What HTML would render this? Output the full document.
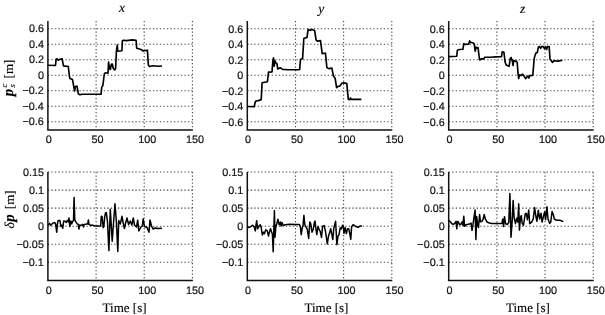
<!DOCTYPE html><html><head><meta charset="utf-8"><title>plots</title><style>html,body{margin:0;padding:0;background:#fff}svg{display:block}text{text-rendering:geometricPrecision;font-family:"Liberation Sans",sans-serif;font-size:10.8px;fill:#111;stroke:#111;stroke-width:0.2px}.s{font-family:"Liberation Serif",serif;stroke:#000;stroke-width:0.12px;fill:#000}</style></head><body>
<svg width="605" height="315" viewBox="0 0 605 315">
<rect width="605" height="315" fill="#fff"/>
<g stroke="#444" stroke-width="1.1" stroke-dasharray="1.3 2.2" fill="none"><line x1="47.9" y1="28.8" x2="192.4" y2="28.8"/><line x1="47.9" y1="44.3" x2="192.4" y2="44.3"/><line x1="47.9" y1="59.8" x2="192.4" y2="59.8"/><line x1="47.9" y1="75.3" x2="192.4" y2="75.3"/><line x1="47.9" y1="90.8" x2="192.4" y2="90.8"/><line x1="47.9" y1="106.3" x2="192.4" y2="106.3"/><line x1="47.9" y1="121.8" x2="192.4" y2="121.8"/><line x1="96.1" y1="21.0" x2="96.1" y2="129.6"/><line x1="144.2" y1="21.0" x2="144.2" y2="129.6"/><line x1="192.4" y1="21.0" x2="192.4" y2="129.6"/></g>
<path d="M47.9 21.0V129.9H192.9" stroke="#111" stroke-width="1.5" fill="none"/>
<text x="43.9" y="32.4" text-anchor="end">0.6</text>
<text x="43.9" y="47.9" text-anchor="end">0.4</text>
<text x="43.9" y="63.4" text-anchor="end">0.2</text>
<text x="43.9" y="78.9" text-anchor="end">0</text>
<text x="43.9" y="94.4" text-anchor="end">−0.2</text>
<text x="43.9" y="109.9" text-anchor="end">−0.4</text>
<text x="43.9" y="125.4" text-anchor="end">−0.6</text>
<text x="48.7" y="143.4" text-anchor="middle">0</text>
<text x="97.5" y="143.4" text-anchor="middle">50</text>
<text x="147.2" y="143.4" text-anchor="middle">100</text>
<text x="195.0" y="143.4" text-anchor="middle">150</text>
<path d="M47.8 65.3 L55.5 65.5 L56.1 59.3 L57.2 58.9 L58.3 60.2 L60.0 59.3 L62.1 58.9 L63.5 65.9 L68.3 66.5 L69.5 77.0 L70.0 78.4 L72.5 79.6 L74.6 91.0 L75.3 86.8 L77.0 86.1 L78.4 93.8 L79.5 94.6 L83.0 94.2 L101.1 94.2 L101.7 87.3 L102.9 85.3 L104.3 74.0 L105.3 72.8 L108.0 73.2 L108.6 62.0 L109.5 68.7 L110.4 69.3 L111.3 64.3 L112.3 64.0 L113.1 68.0 L114.7 70.0 L115.6 68.5 L116.2 56.0 L116.4 51.2 L117.3 45.0 L117.7 51.2 L121.9 50.7 L122.4 40.8 L123.4 40.3 L126.4 40.6 L132.5 39.9 L136.1 40.2 L136.7 48.2 L138.6 48.7 L141.7 49.7 L142.7 51.0 L144.2 50.7 L147.4 50.2 L148.4 65.4 L149.8 66.5 L152.8 65.7 L157.9 66.2 L162.0 66.0" stroke="#000" stroke-width="1.65" fill="none" stroke-linejoin="round"/>
<g stroke="#444" stroke-width="1.1" stroke-dasharray="1.3 2.2" fill="none"><line x1="247.3" y1="28.8" x2="391.8" y2="28.8"/><line x1="247.3" y1="44.3" x2="391.8" y2="44.3"/><line x1="247.3" y1="59.8" x2="391.8" y2="59.8"/><line x1="247.3" y1="75.3" x2="391.8" y2="75.3"/><line x1="247.3" y1="90.8" x2="391.8" y2="90.8"/><line x1="247.3" y1="106.3" x2="391.8" y2="106.3"/><line x1="247.3" y1="121.8" x2="391.8" y2="121.8"/><line x1="295.5" y1="21.0" x2="295.5" y2="129.6"/><line x1="343.6" y1="21.0" x2="343.6" y2="129.6"/><line x1="391.8" y1="21.0" x2="391.8" y2="129.6"/></g>
<path d="M247.3 21.0V129.9H392.3" stroke="#111" stroke-width="1.5" fill="none"/>
<text x="243.3" y="32.8" text-anchor="end">0.6</text>
<text x="243.3" y="48.3" text-anchor="end">0.4</text>
<text x="243.3" y="63.8" text-anchor="end">0.2</text>
<text x="243.3" y="79.3" text-anchor="end">0</text>
<text x="243.3" y="94.8" text-anchor="end">−0.2</text>
<text x="243.3" y="110.3" text-anchor="end">−0.4</text>
<text x="243.3" y="125.8" text-anchor="end">−0.6</text>
<text x="248.1" y="143.4" text-anchor="middle">0</text>
<text x="296.9" y="143.4" text-anchor="middle">50</text>
<text x="346.6" y="143.4" text-anchor="middle">100</text>
<text x="394.4" y="143.4" text-anchor="middle">150</text>
<path d="M247.5 106.5 L254.1 106.8 L255.5 101.2 L259.0 100.4 L261.2 99.6 L262.1 82.7 L267.4 81.8 L268.5 72.1 L272.0 71.9 L272.8 62.0 L273.5 57.9 L274.2 66.1 L274.9 60.7 L275.7 62.8 L276.9 63.6 L277.8 69.0 L280.2 67.8 L282.7 69.4 L288.1 69.8 L299.6 69.7 L300.5 59.6 L302.6 58.6 L303.8 38.5 L307.0 37.4 L308.1 29.4 L310.5 30.4 L312.0 29.4 L314.6 30.4 L316.1 40.0 L317.3 41.1 L320.5 40.6 L322.2 53.7 L325.4 53.0 L326.9 67.6 L328.7 68.6 L331.9 68.1 L333.4 76.1 L335.1 78.2 L336.6 87.6 L338.1 86.3 L339.8 86.1 L341.7 83.4 L343.9 82.7 L346.8 83.6 L348.3 99.4 L349.7 99.7 L350.5 97.9 L351.2 99.4 L361.4 99.4" stroke="#000" stroke-width="1.65" fill="none" stroke-linejoin="round"/>
<g stroke="#444" stroke-width="1.1" stroke-dasharray="1.3 2.2" fill="none"><line x1="448.7" y1="28.8" x2="593.2" y2="28.8"/><line x1="448.7" y1="44.3" x2="593.2" y2="44.3"/><line x1="448.7" y1="59.8" x2="593.2" y2="59.8"/><line x1="448.7" y1="75.3" x2="593.2" y2="75.3"/><line x1="448.7" y1="90.8" x2="593.2" y2="90.8"/><line x1="448.7" y1="106.3" x2="593.2" y2="106.3"/><line x1="448.7" y1="121.8" x2="593.2" y2="121.8"/><line x1="496.9" y1="21.0" x2="496.9" y2="129.6"/><line x1="545.0" y1="21.0" x2="545.0" y2="129.6"/><line x1="593.2" y1="21.0" x2="593.2" y2="129.6"/></g>
<path d="M448.7 21.0V129.9H593.7" stroke="#111" stroke-width="1.5" fill="none"/>
<text x="444.7" y="32.8" text-anchor="end">0.6</text>
<text x="444.7" y="48.3" text-anchor="end">0.4</text>
<text x="444.7" y="63.8" text-anchor="end">0.2</text>
<text x="444.7" y="79.3" text-anchor="end">0</text>
<text x="444.7" y="94.8" text-anchor="end">−0.2</text>
<text x="444.7" y="110.3" text-anchor="end">−0.4</text>
<text x="444.7" y="125.8" text-anchor="end">−0.6</text>
<text x="449.5" y="143.4" text-anchor="middle">0</text>
<text x="498.3" y="143.4" text-anchor="middle">50</text>
<text x="548.0" y="143.4" text-anchor="middle">100</text>
<text x="595.8" y="143.4" text-anchor="middle">150</text>
<path d="M448.6 56.6 L456.7 56.3 L457.4 50.2 L459.3 49.5 L462.9 49.3 L463.8 43.6 L464.7 44.4 L468.7 44.2 L469.6 40.9 L470.7 42.4 L472.7 42.7 L474.3 44.2 L475.2 51.1 L476.0 47.1 L476.9 48.0 L478.0 47.6 L479.6 60.0 L481.6 58.7 L483.8 58.9 L484.7 57.3 L490.4 57.2 L495.8 56.9 L501.5 56.7 L502.2 51.8 L503.9 52.2 L505.1 62.1 L506.1 65.1 L509.1 66.3 L510.3 58.5 L511.1 57.5 L512.3 60.9 L513.1 65.5 L513.5 60.3 L515.1 61.5 L516.3 60.9 L517.2 62.7 L518.1 74.2 L518.7 78.4 L519.6 74.8 L521.1 75.6 L522.7 74.2 L524.2 76.3 L525.6 78.7 L526.8 77.2 L527.8 76.0 L529.0 78.0 L529.6 75.6 L532.8 75.4 L533.6 65.7 L534.2 58.5 L535.2 54.9 L535.9 53.1 L537.3 52.5 L538.4 46.9 L539.4 46.4 L540.6 48.3 L541.8 46.3 L543.5 46.9 L544.6 48.7 L545.7 46.8 L546.7 49.5 L547.5 46.6 L549.2 46.6 L550.0 59.2 L551.1 60.6 L552.5 62.5 L553.8 60.8 L558.1 61.1 L562.4 60.3" stroke="#000" stroke-width="1.65" fill="none" stroke-linejoin="round"/>
<g stroke="#444" stroke-width="1.1" stroke-dasharray="1.3 2.2" fill="none"><line x1="47.9" y1="172.0" x2="192.4" y2="172.0"/><line x1="47.9" y1="190.1" x2="192.4" y2="190.1"/><line x1="47.9" y1="208.1" x2="192.4" y2="208.1"/><line x1="47.9" y1="226.2" x2="192.4" y2="226.2"/><line x1="47.9" y1="244.3" x2="192.4" y2="244.3"/><line x1="47.9" y1="262.3" x2="192.4" y2="262.3"/><line x1="96.1" y1="172.0" x2="96.1" y2="280.4"/><line x1="144.2" y1="172.0" x2="144.2" y2="280.4"/><line x1="192.4" y1="172.0" x2="192.4" y2="280.4"/></g>
<path d="M47.9 172.0V280.5H192.9" stroke="#111" stroke-width="1.5" fill="none"/>
<text x="43.9" y="175.6" text-anchor="end">0.15</text>
<text x="43.9" y="193.7" text-anchor="end">0.1</text>
<text x="43.9" y="211.7" text-anchor="end">0.05</text>
<text x="43.9" y="229.8" text-anchor="end">0</text>
<text x="43.9" y="247.9" text-anchor="end">−0.05</text>
<text x="43.9" y="265.9" text-anchor="end">−0.1</text>
<text x="48.7" y="294.2" text-anchor="middle">0</text>
<text x="97.5" y="294.2" text-anchor="middle">50</text>
<text x="147.2" y="294.2" text-anchor="middle">100</text>
<text x="195.0" y="294.2" text-anchor="middle">150</text>
<path d="M48.2 224.9 L49.5 223.4 L50.8 225.4 L52.0 223.9 L53.4 222.9 L54.7 222.4 L55.7 224.4 L56.7 232.2 L57.4 224.4 L58.1 220.4 L59.9 220.4 L60.9 226.4 L61.9 225.4 L62.7 228.3 L63.7 220.9 L65.3 221.4 L66.3 222.4 L67.3 220.4 L68.3 221.9 L69.0 217.9 L69.8 226.4 L70.8 220.9 L71.6 223.9 L72.6 221.4 L73.5 220.4 L74.1 197.4 L74.8 219.9 L75.8 221.9 L77.3 223.9 L78.2 224.4 L78.9 229.0 L79.7 224.9 L81.2 225.4 L82.7 224.4 L83.5 227.0 L84.2 224.4 L86.7 224.1 L87.7 224.0 L88.4 219.9 L89.0 224.4 L90.6 225.4 L92.6 225.1 L94.6 225.9 L97.6 226.1 L100.6 225.9 L101.3 216.2 L102.1 216.6 L103.2 227.8 L103.9 226.0 L104.7 216.9 L105.5 213.0 L106.3 212.6 L107.5 222.0 L108.9 250.6 L110.3 209.3 L112.2 241.3 L113.6 222.0 L115.0 203.8 L116.4 222.0 L117.8 251.6 L118.7 220.5 L120.3 224.0 L122.0 216.3 L123.2 223.0 L124.4 228.6 L125.6 223.0 L127.0 218.0 L128.6 224.5 L130.3 221.0 L131.8 225.0 L133.3 218.0 L134.5 225.0 L136.5 227.0 L137.7 220.2 L138.8 231.0 L141.0 227.0 L142.3 226.0 L143.2 218.8 L144.5 226.5 L147.0 227.5 L149.0 232.2 L150.0 219.9 L151.5 226.0 L153.0 229.0 L155.0 228.0 L157.9 228.6 L162.0 228.2" stroke="#000" stroke-width="1.5" fill="none" stroke-linejoin="round"/>
<g stroke="#444" stroke-width="1.1" stroke-dasharray="1.3 2.2" fill="none"><line x1="247.3" y1="172.0" x2="391.8" y2="172.0"/><line x1="247.3" y1="190.1" x2="391.8" y2="190.1"/><line x1="247.3" y1="208.1" x2="391.8" y2="208.1"/><line x1="247.3" y1="226.2" x2="391.8" y2="226.2"/><line x1="247.3" y1="244.3" x2="391.8" y2="244.3"/><line x1="247.3" y1="262.3" x2="391.8" y2="262.3"/><line x1="295.5" y1="172.0" x2="295.5" y2="280.4"/><line x1="343.6" y1="172.0" x2="343.6" y2="280.4"/><line x1="391.8" y1="172.0" x2="391.8" y2="280.4"/></g>
<path d="M247.3 172.0V280.5H392.3" stroke="#111" stroke-width="1.5" fill="none"/>
<text x="243.3" y="176.0" text-anchor="end">0.15</text>
<text x="243.3" y="194.1" text-anchor="end">0.1</text>
<text x="243.3" y="212.1" text-anchor="end">0.05</text>
<text x="243.3" y="230.2" text-anchor="end">0</text>
<text x="243.3" y="248.3" text-anchor="end">−0.05</text>
<text x="243.3" y="266.3" text-anchor="end">−0.1</text>
<text x="248.1" y="294.2" text-anchor="middle">0</text>
<text x="296.9" y="294.2" text-anchor="middle">50</text>
<text x="346.6" y="294.2" text-anchor="middle">100</text>
<text x="394.4" y="294.2" text-anchor="middle">150</text>
<path d="M247.8 226.8 L249.0 227.6 L251.1 226.3 L252.6 225.2 L254.1 226.8 L255.3 230.9 L256.0 225.0 L256.7 220.7 L257.6 228.8 L259.0 226.3 L260.2 224.8 L261.2 227.3 L262.3 235.0 L263.3 232.2 L264.3 233.8 L265.8 229.8 L267.3 230.9 L268.5 236.0 L269.6 231.4 L270.5 228.8 L271.5 231.8 L272.4 234.0 L273.2 251.8 L274.4 210.6 L275.0 237.2 L275.9 226.3 L277.0 223.2 L277.9 219.2 L279.2 224.8 L280.4 222.0 L281.1 226.0 L282.1 222.6 L283.2 225.6 L285.1 224.8 L289.7 224.3 L295.8 224.5 L299.4 224.5 L300.3 226.3 L301.2 234.7 L302.2 228.1 L303.0 225.7 L303.9 215.3 L304.8 224.5 L306.0 227.2 L307.2 229.0 L308.7 238.4 L309.8 221.9 L310.8 224.0 L312.0 232.2 L313.2 229.5 L314.4 222.5 L315.0 221.0 L316.2 231.0 L316.8 234.6 L318.0 226.5 L319.2 229.5 L320.2 231.4 L321.5 237.4 L322.6 226.3 L324.2 225.6 L325.5 231.5 L327.3 243.8 L328.5 236.0 L329.7 232.6 L330.7 228.7 L331.6 233.2 L332.8 239.5 L333.8 228.4 L334.8 224.2 L335.6 221.2 L336.9 244.7 L338.0 236.2 L339.0 234.6 L340.2 227.8 L341.3 229.0 L342.5 225.3 L343.2 226.0 L344.0 233.3 L345.1 227.6 L346.4 233.6 L347.5 228.7 L348.7 228.7 L349.7 233.2 L350.8 239.3 L351.6 226.6 L353.1 224.7 L355.5 226.4 L357.8 227.3 L360.0 226.3 L361.9 225.8" stroke="#000" stroke-width="1.5" fill="none" stroke-linejoin="round"/>
<g stroke="#444" stroke-width="1.1" stroke-dasharray="1.3 2.2" fill="none"><line x1="448.7" y1="172.0" x2="593.2" y2="172.0"/><line x1="448.7" y1="190.1" x2="593.2" y2="190.1"/><line x1="448.7" y1="208.1" x2="593.2" y2="208.1"/><line x1="448.7" y1="226.2" x2="593.2" y2="226.2"/><line x1="448.7" y1="244.3" x2="593.2" y2="244.3"/><line x1="448.7" y1="262.3" x2="593.2" y2="262.3"/><line x1="496.9" y1="172.0" x2="496.9" y2="280.4"/><line x1="545.0" y1="172.0" x2="545.0" y2="280.4"/><line x1="593.2" y1="172.0" x2="593.2" y2="280.4"/></g>
<path d="M448.7 172.0V280.5H593.7" stroke="#111" stroke-width="1.5" fill="none"/>
<text x="444.7" y="176.0" text-anchor="end">0.15</text>
<text x="444.7" y="194.1" text-anchor="end">0.1</text>
<text x="444.7" y="212.1" text-anchor="end">0.05</text>
<text x="444.7" y="230.2" text-anchor="end">0</text>
<text x="444.7" y="248.3" text-anchor="end">−0.05</text>
<text x="444.7" y="266.3" text-anchor="end">−0.1</text>
<text x="449.5" y="294.2" text-anchor="middle">0</text>
<text x="498.3" y="294.2" text-anchor="middle">50</text>
<text x="548.0" y="294.2" text-anchor="middle">100</text>
<text x="595.8" y="294.2" text-anchor="middle">150</text>
<path d="M448.4 221.0 L449.2 220.8 L450.6 222.0 L451.7 223.7 L453.4 224.3 L454.9 223.1 L456.0 221.4 L456.8 228.8 L457.6 221.4 L458.5 222.0 L459.5 224.8 L460.8 224.3 L462.0 222.0 L462.9 225.4 L463.8 216.2 L464.6 226.3 L466.0 224.8 L468.3 224.3 L470.0 223.7 L471.1 223.1 L472.0 230.5 L473.2 223.0 L474.1 216.3 L475.1 210.1 L475.9 239.5 L476.7 216.6 L477.7 225.4 L478.5 227.5 L479.6 214.5 L480.5 221.8 L482.0 221.4 L483.1 219.1 L484.2 214.5 L485.4 219.2 L487.1 222.0 L489.4 223.1 L491.7 223.6 L496.6 223.5 L501.9 223.4 L502.7 219.1 L503.6 226.5 L504.5 216.8 L505.6 223.7 L507.5 224.5 L508.8 222.1 L509.9 193.5 L511.0 237.2 L512.3 219.7 L513.1 200.6 L514.2 218.2 L515.5 223.7 L516.7 218.2 L517.8 222.1 L518.7 203.8 L519.4 230.1 L520.5 217.4 L521.3 215.6 L522.1 222.9 L523.4 225.3 L524.2 220.5 L525.3 213.6 L526.3 213.4 L527.4 219.7 L528.7 210.0 L529.7 223.7 L531.7 222.1 L533.2 219.0 L534.6 207.5 L535.8 215.8 L536.9 221.3 L538.3 210.2 L539.6 219.0 L541.0 213.2 L542.1 222.1 L543.6 215.8 L544.7 211.8 L545.6 219.7 L546.9 206.8 L548.0 219.0 L549.7 223.4 L550.7 222.1 L552.1 211.5 L553.2 214.2 L554.3 219.0 L556.7 220.3 L559.9 220.3 L563.4 221.6" stroke="#000" stroke-width="1.5" fill="none" stroke-linejoin="round"/>
<text class="s" x="121.9" y="12.4" text-anchor="middle" font-style="italic" style="font-size:13.5px;fill:#000">x</text>
<text class="s" x="124.6" y="312" text-anchor="middle" style="font-size:13px">Time [s]</text>
<text class="s" x="321.2" y="13.0" text-anchor="middle" font-style="italic" style="font-size:13.5px;fill:#000">y</text>
<text class="s" x="326.4" y="312" text-anchor="middle" style="font-size:13px">Time [s]</text>
<text class="s" x="522.7" y="13.0" text-anchor="middle" font-style="italic" style="font-size:13.5px;fill:#000">z</text>
<text class="s" x="527.9" y="312" text-anchor="middle" style="font-size:13px">Time [s]</text>
<text class="s" transform="translate(12.9 96.3) rotate(-90)" style="font-size:15px" font-weight="bold" font-style="italic">p</text>
<text class="s" transform="translate(13.2 78.4) rotate(-90)" style="font-size:13px" >[m]</text>
<text class="s" transform="translate(6.7 87.6) rotate(-90)" style="font-size:8.5px" font-style="italic">c</text>
<text class="s" transform="translate(14.9 87.6) rotate(-90)" style="font-size:8.5px" font-style="italic">s</text>
<text class="s" transform="translate(13.8 228.5) rotate(-90)" style="font-size:13.5px" font-style="italic">δ</text>
<text class="s" transform="translate(14 221.8) rotate(-90)" style="font-size:15px" font-weight="bold" font-style="italic">p</text>
<text class="s" transform="translate(14 209.2) rotate(-90)" style="font-size:13px" >[m]</text>
</svg></body></html>
